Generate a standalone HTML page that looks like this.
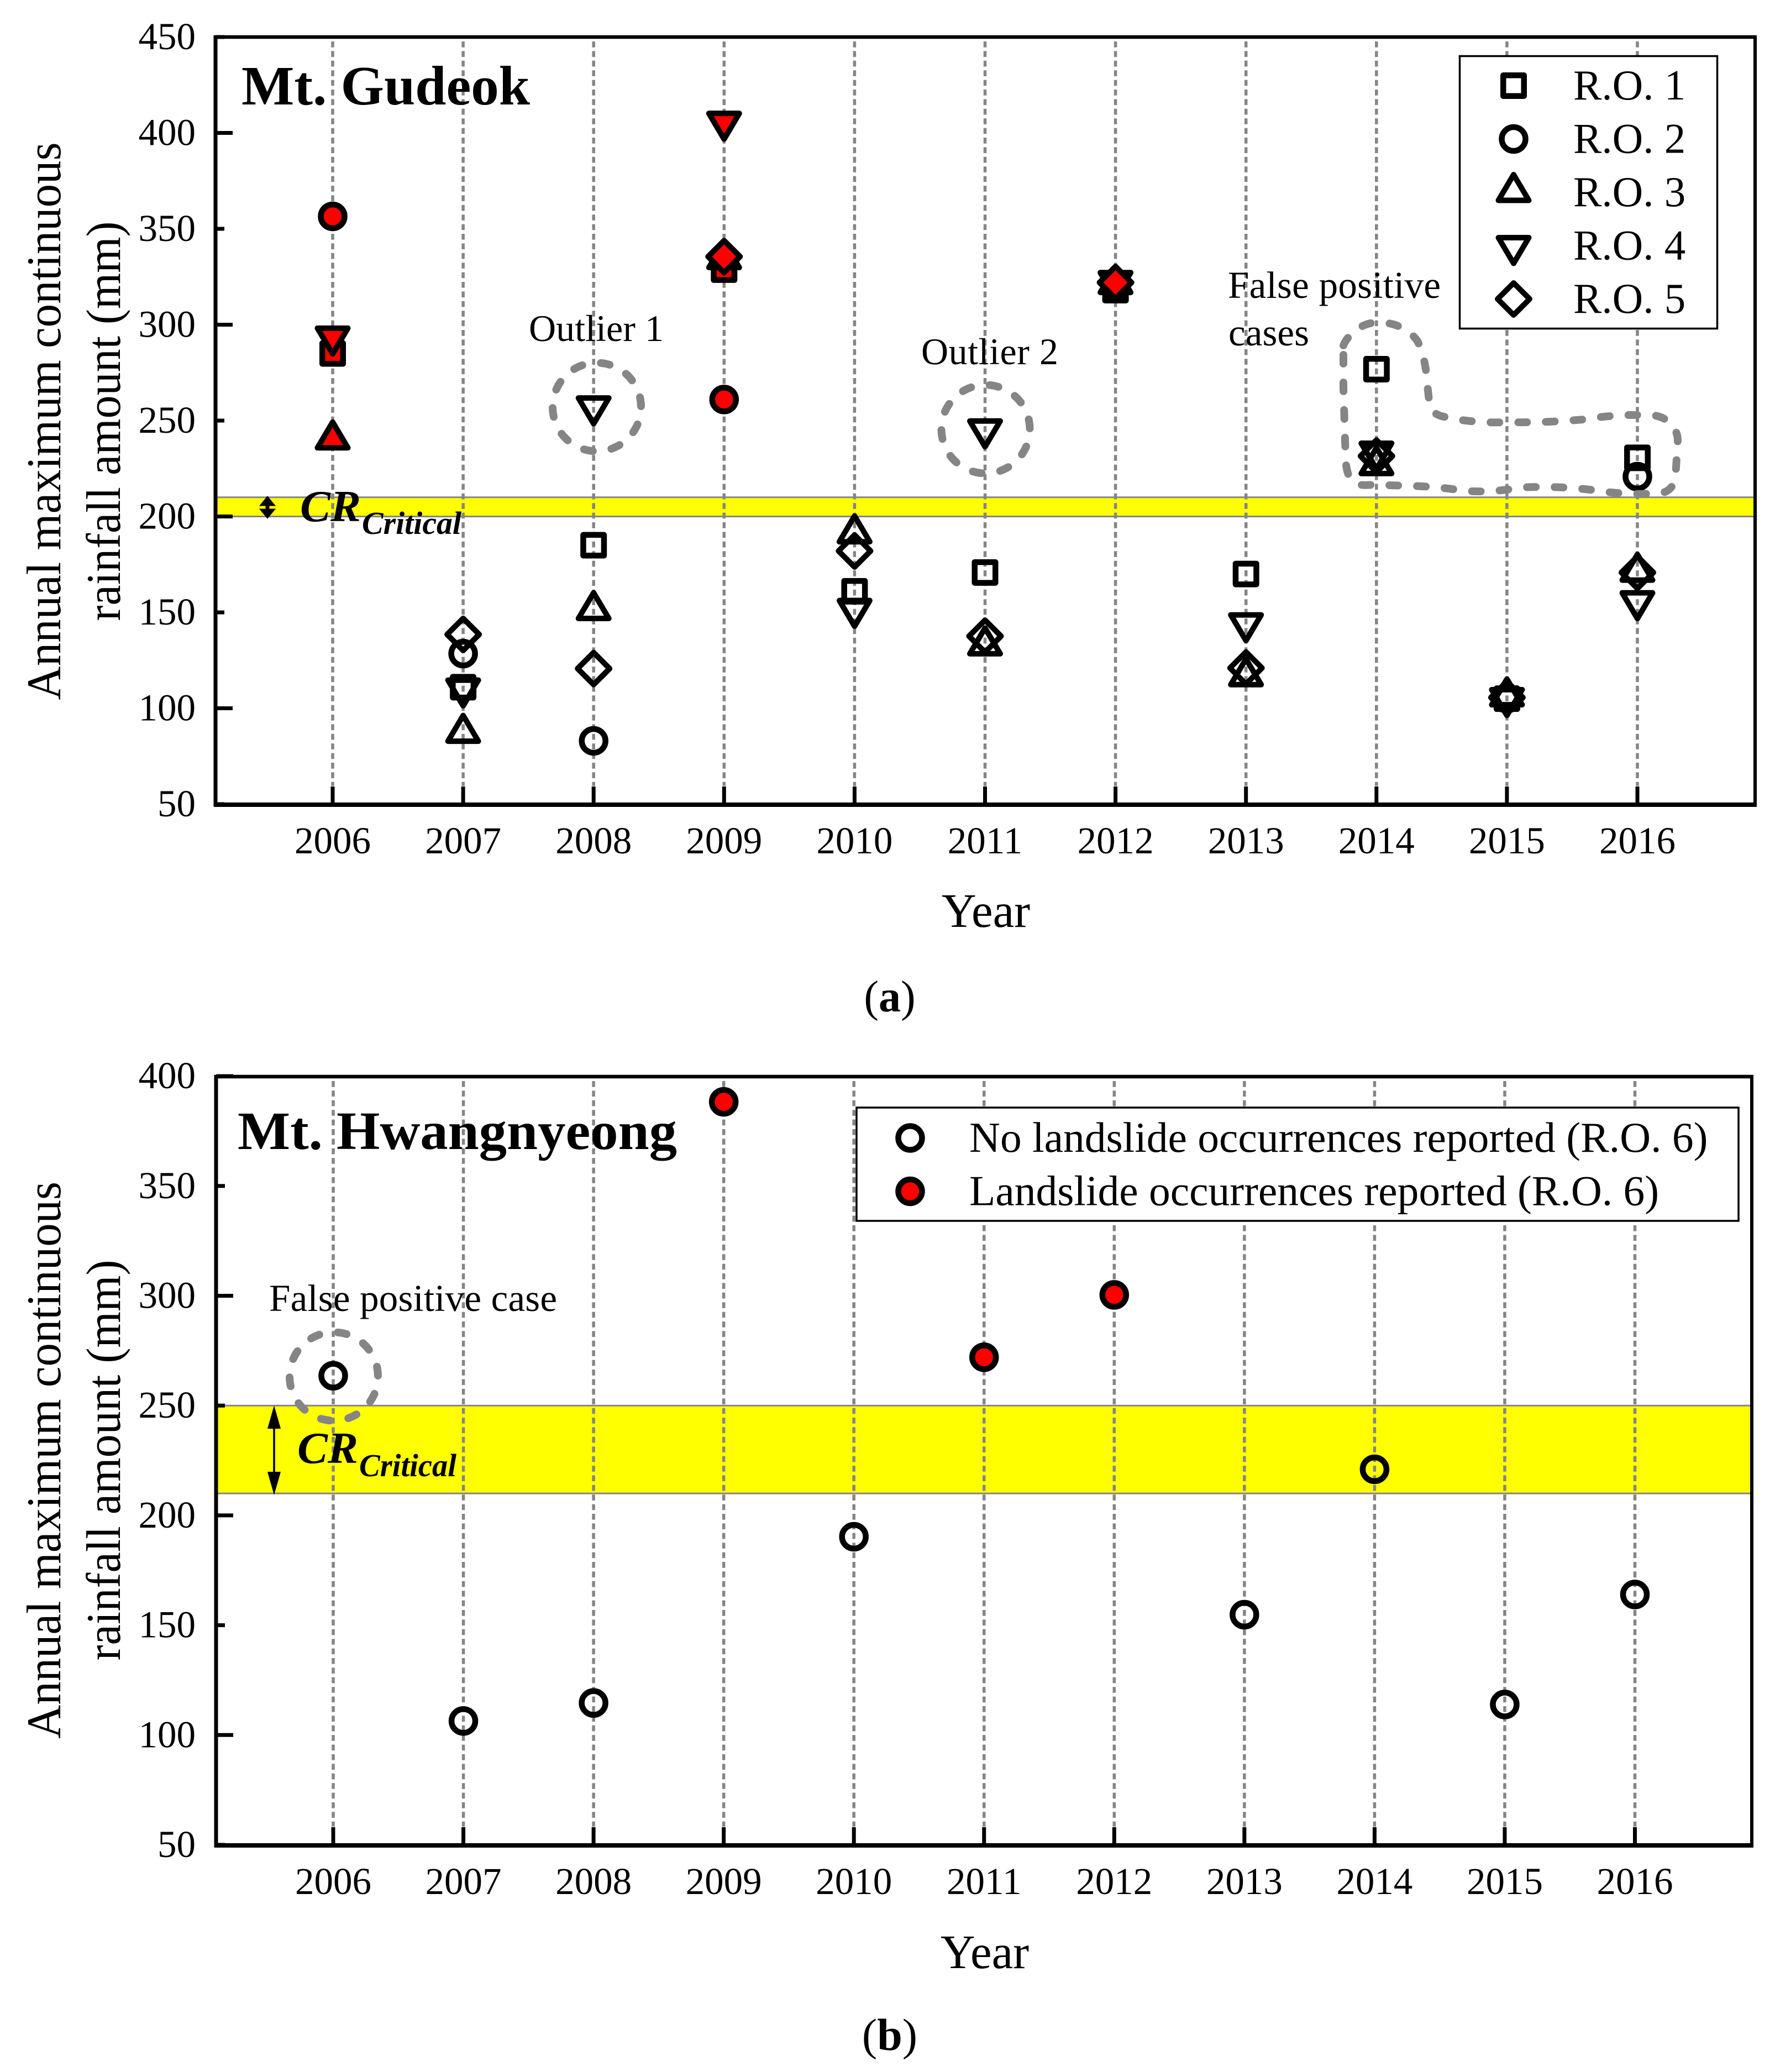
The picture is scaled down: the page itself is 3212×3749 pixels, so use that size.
<!DOCTYPE html>
<html lang="en">
<head>
<meta charset="utf-8">
<title>Annual maximum continuous rainfall amount</title>
<style>
html,body{margin:0;padding:0;background:#fff;}
svg{display:block;}
text{font-family:"Liberation Serif","Times New Roman",serif;fill:#000;}
</style>
</head>
<body>
<svg id="fig" xmlns="http://www.w3.org/2000/svg" width="3212" height="3749" viewBox="0 0 3212 3749">
  <rect x="0" y="0" width="3212" height="3749" fill="#fff"/>
  <g id="panelA"></g>
  <g id="panelB"></g>
  <g id="annot">
    <text x="437" y="189" font-size="101" font-weight="bold" textLength="522" lengthAdjust="spacingAndGlyphs">Mt. Gudeok</text>
    <text transform="translate(109,762) rotate(-90)" text-anchor="middle" font-size="88" textLength="1009" lengthAdjust="spacingAndGlyphs">Annual maximum continuous</text>
    <text transform="translate(217,762) rotate(-90)" text-anchor="middle" font-size="88" textLength="723" lengthAdjust="spacingAndGlyphs">rainfall amount (mm)</text>
    <text x="1784" y="1677" text-anchor="middle" font-size="87">Year</text>
    <text x="1610" y="1830" text-anchor="middle" font-size="80">(<tspan font-weight="bold">a</tspan>)</text>
    <text x="957" y="617" font-size="68" textLength="244">Outlier 1</text>
    <text x="1667" y="659" font-size="68" textLength="248">Outlier 2</text>
    <text x="2222" y="539" font-size="69" textLength="385">False positive</text>
    <text x="2223" y="625" font-size="69" textLength="146">cases</text>
    <ellipse cx="1080" cy="736.5" rx="80" ry="80" fill="none" stroke="#858585" stroke-width="14" stroke-linecap="round" stroke-dasharray="16.3 33.96" stroke-dashoffset="18"/>
    <ellipse cx="1783.5" cy="776.5" rx="80" ry="80" fill="none" stroke="#858585" stroke-width="14" stroke-linecap="round" stroke-dasharray="16.3 33.96" stroke-dashoffset="18"/>
    <path fill="none" stroke="#858585" stroke-width="14" stroke-linecap="round" stroke-linejoin="round" stroke-dasharray="16 34"
      d="M2431 625 Q2436 612 2448 603 Q2462 588 2484 584 Q2512 582 2530 590 Q2556 602 2566 619 Q2580 650 2582 689 L2587 733 Q2592 750 2613 754 Q2665 766 2721 764 Q2800 765 2865 759 Q2920 750 2967 751 Q2995 748 3014 759 Q3036 775 3036 797 L3032 861 Q3030 885 3008 892 Q2960 896 2906 890 Q2830 878 2751 882 Q2700 892 2649 888 Q2600 880 2546 879 L2484 877 Q2455 880 2448 871 Q2436 860 2435 829 L2431 702 Z"/>
    <line x1="484" y1="905" x2="484" y2="930" stroke="#000" stroke-width="7"/>
    <polygon points="484,898 470,915 498,915" fill="#000" stroke="#000" stroke-width="1"/>
    <polygon points="484,938 470,921 498,921" fill="#000" stroke="#000" stroke-width="1"/>
    <text x="543" y="943" font-size="80" font-style="italic" font-weight="bold" textLength="110" lengthAdjust="spacingAndGlyphs">CR</text>
    <text x="655" y="966" font-size="58" font-style="italic" font-weight="bold" textLength="180" lengthAdjust="spacingAndGlyphs">Critical</text>

    <text x="430" y="2079" font-size="98" font-weight="bold" textLength="795" lengthAdjust="spacingAndGlyphs">Mt. Hwangnyeong</text>
    <text transform="translate(109,2642) rotate(-90)" text-anchor="middle" font-size="88" textLength="1008" lengthAdjust="spacingAndGlyphs">Annual maximum continuous</text>
    <text transform="translate(217,2642) rotate(-90)" text-anchor="middle" font-size="88" textLength="725" lengthAdjust="spacingAndGlyphs">rainfall amount (mm)</text>
    <text x="1782" y="3561" text-anchor="middle" font-size="87">Year</text>
    <text x="1610" y="3709" text-anchor="middle" font-size="82">(<tspan font-weight="bold">b</tspan>)</text>
    <text x="487" y="2372" font-size="69" textLength="521">False positive case</text>
    <ellipse cx="604" cy="2490.5" rx="80" ry="80" fill="none" stroke="#858585" stroke-width="14" stroke-linecap="round" stroke-dasharray="16.3 33.96" stroke-dashoffset="18"/>
    <line x1="496" y1="2560" x2="496" y2="2690" stroke="#000" stroke-width="3.5"/>
    <polygon points="496,2543 484,2585 508,2585" fill="#000"/>
    <polygon points="496,2705 484,2663 508,2663" fill="#000"/>
    <text x="538" y="2647" font-size="80" font-style="italic" font-weight="bold" textLength="110" lengthAdjust="spacingAndGlyphs">CR</text>
    <text x="650" y="2671" font-size="58" font-style="italic" font-weight="bold" textLength="176" lengthAdjust="spacingAndGlyphs">Critical</text>
  </g>
</svg>
<script>
// ---- shared data ----
const years = [2006, 2007, 2008, 2009, 2010, 2011, 2012, 2013, 2014, 2015, 2016];

// ---- Mt. Gudeok values (mm) ----
const gudeokRO1 = [285, 111, 185, 328.7, 161, 170.8, 318, 170, 276.8, 105, 230.6];
const gudeokRO2 = [356.5, 128.5, 83, 261, null, null, 320, null, null, 105, 220.8];
const gudeokRO3 = [240, 87, 151, 334, 191, 132.6, 321, 116.5, 226.6, 106, 171];
const gudeokRO4 = [294, 110.5, 257.6, 406, 152, 245.6, 323, 144.5, 234, 105.5, 156];
const gudeokRO5 = [null, 138.5, 120.7, 335.5, 182, 137.6, 322, 121, 231.5, 105.6, 170.8];
const gudeokLandslideYears = [2006, 2009, 2012];
const gudeokTicks = [50, 100, 150, 200, 250, 300, 350, 400, 450];
const gudeokCritical = [200, 210];
const gudeokLegend = ['R.O. 1', 'R.O. 2', 'R.O. 3', 'R.O. 4', 'R.O. 5'];

// ---- Mt. Hwangnyeong values (mm) ----
const hwangRO6 = [263.6, 106.4, 114.6, 388.3, 190.3, 272, 300.4, 154.8, 221, 113.9, 164];
const hwangLandslideYears = [2009, 2011, 2012];
const hwangTicks = [50, 100, 150, 200, 250, 300, 350, 400];
const hwangCritical = [210, 250];
const hwangLegend = ['No landslide occurrences reported (R.O. 6)', 'Landslide occurrences reported (R.O. 6)'];

const NS = 'http://www.w3.org/2000/svg';
function mk(parent, tag, attrs, txt) {
  const el = document.createElementNS(NS, tag);
  for (const k in attrs) el.setAttribute(k, attrs[k]);
  if (txt !== undefined) el.textContent = txt;
  parent.appendChild(el);
  return el;
}

// axis functions
function xA(year) { return 602 + (year - 2006) * 236.1; }
function yA(v) { return 1455 - (v - 50) * 3.47; }
function xB(year) { return 603 + (year - 2006) * 235.55; }
function yB(v) { return 3338 - (v - 50) * 3.974; }

function marker(parent, shape, cx, cy, fill) {
  let el;
  const g = mk(parent, 'g', {fill: fill, stroke: '#000', 'stroke-linejoin': 'round'});
  if (shape === 'square') {
    el = mk(g, 'rect', {x: cx - 18.75, y: cy - 18.75, width: 37.5, height: 37.5, 'stroke-width': 10.5});
    
    
  } else if (shape === 'circle') {
    el = mk(g, 'circle', {cx: cx, cy: cy, r: 21.5, 'stroke-width': 10.5});
    
    
  } else if (shape === 'up') {
    el = mk(g, 'polygon', {points: cx + ',' + (cy - 32) + ' ' + (cx + 27.5) + ',' + (cy + 14.5) + ' ' + (cx - 27.5) + ',' + (cy + 14.5), 'stroke-width': 10});
    
    
  } else if (shape === 'down') {
    el = mk(g, 'polygon', {points: cx + ',' + (cy + 32) + ' ' + (cx + 27.5) + ',' + (cy - 14.5) + ' ' + (cx - 27.5) + ',' + (cy - 14.5), 'stroke-width': 10});
    
    
  } else {
    el = mk(g, 'polygon', {points: cx + ',' + (cy - 29) + ' ' + (cx + 29) + ',' + cy + ' ' + cx + ',' + (cy + 29) + ' ' + (cx - 29) + ',' + cy, 'stroke-width': 10});
    
    
  }
}

function drawFrame(g, left, top, right, bottom, xf, yf, ticks, critical) {
  const band = mk(g, 'rect', {x: left, y: yf(critical[1]), width: right - left, height: yf(critical[0]) - yf(critical[1]), fill: '#ffff00'});
  
  
  critical.forEach(function (v) {
    const l = mk(g, 'line', {x1: left, x2: right, y1: yf(v), y2: yf(v), stroke: '#858585', 'stroke-width': 3});
    
    
  });
  years.forEach(function (yr) {
    const l = mk(g, 'line', {x1: xf(yr), x2: xf(yr), y1: top + 8, y2: bottom - 33, stroke: '#858585', 'stroke-width': 5.5, 'stroke-dasharray': '10.7 6.7'});
    
    
    const t = mk(g, 'line', {x1: xf(yr), x2: xf(yr), y1: bottom, y2: bottom - 32, stroke: '#000', 'stroke-width': 7});
    
    
    const lab = mk(g, 'text', {x: xf(yr), y: bottom + 89, 'text-anchor': 'middle', 'font-size': 69}, String(yr));
    
    
  });
  ticks.forEach(function (v) {
    const len = v % 100 === 0 ? 31 : 16;
    const t = mk(g, 'line', {x1: left, x2: left + len, y1: yf(v), y2: yf(v), stroke: '#000', 'stroke-width': 7});
    
    
    const lab = mk(g, 'text', {x: 354, y: yf(v) + 22, 'text-anchor': 'end', 'font-size': 69}, String(v));
    
    
  });
  const tp = mk(g, 'line', {x1: left - 3, x2: right + 3, y1: top, y2: top, stroke: '#000', 'stroke-width': 6.5});
  
  
  const rt = mk(g, 'line', {x1: right, x2: right, y1: top - 3, y2: bottom + 4, stroke: '#000', 'stroke-width': 6});
  
  
  const lf = mk(g, 'line', {x1: left, x2: left, y1: top - 3, y2: bottom + 4, stroke: '#000', 'stroke-width': 7});
  
  
  const bt = mk(g, 'line', {x1: left - 3, x2: right + 3, y1: bottom + 1, y2: bottom + 1, stroke: '#000', 'stroke-width': 8});
  
  
}

// ---- panel A ----
const gA = document.getElementById('panelA');
drawFrame(gA, 390, 67, 3176, 1455, xA, yA, gudeokTicks, gudeokCritical);

const legA = mk(gA, 'g', {});


const legABox = mk(legA, 'rect', {x: 2641.5, y: 101.5, width: 466, height: 493, fill: '#fff', stroke: '#000', 'stroke-width': 3.5});


const shapesA = ['square', 'circle', 'up', 'down', 'diamond'];
gudeokLegend.forEach(function (name, i) {
  const cy = 155 + i * 96.5;
  marker(legA, shapesA[i], 2739, cy, 'none');
  const t = mk(legA, 'text', {x: 2847, y: cy + 25, 'font-size': 77}, name);
  
  
});

const seriesA = [gudeokRO1, gudeokRO2, gudeokRO3, gudeokRO4, gudeokRO5];
seriesA.forEach(function (vals, s) {
  vals.forEach(function (v, i) {
    if (v === null) return;
    const red = gudeokLandslideYears.indexOf(years[i]) >= 0;
    marker(gA, shapesA[s], xA(years[i]), yA(v), red ? '#ff0000' : 'none');
  });
});

// ---- panel B ----
const gB = document.getElementById('panelB');
drawFrame(gB, 391, 1948, 3170, 3338, xB, yB, hwangTicks, hwangCritical);

const legB = mk(gB, 'g', {});


const legBBox = mk(legB, 'rect', {x: 1550, y: 2004, width: 1596, height: 205, fill: '#fff', stroke: '#000', 'stroke-width': 3.5});


hwangLegend.forEach(function (name, i) {
  const cy = 2059 + i * 96.5;
  marker(legB, 'circle', 1647, cy, i === 1 ? '#ff0000' : 'none');
  const t = mk(legB, 'text', {x: 1754, y: cy + 25, 'font-size': 77.5}, name);
  
  
});

hwangRO6.forEach(function (v, i) {
  const red = hwangLandslideYears.indexOf(years[i]) >= 0;
  marker(gB, 'circle', xB(years[i]), yB(v), red ? '#ff0000' : 'none');
});
</script>
</body>
</html>
